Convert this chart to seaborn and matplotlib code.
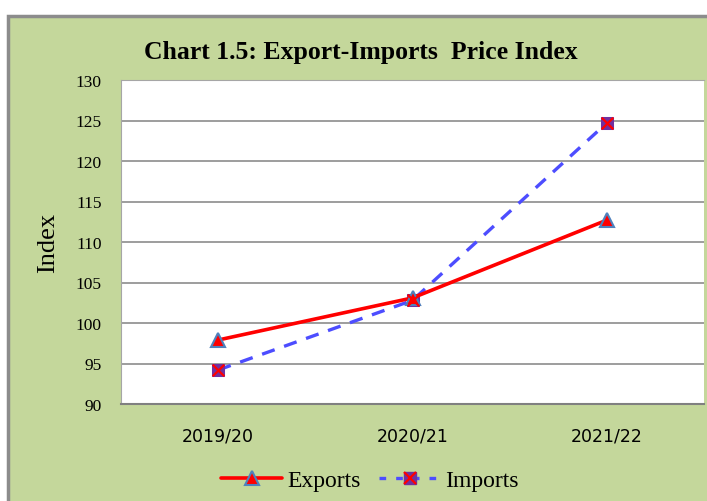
import numpy as np
import pandas as pd
import seaborn as sns
import matplotlib.pyplot as plt
from matplotlib.patches import Rectangle
from matplotlib.lines import Line2D
from matplotlib.legend_handler import HandlerTuple

# Data
years = ['2019/20', '2020/21', '2021/22']
exports = [97.9, 103.1, 112.7]
imports = [94.2, 102.8, 124.7]
y_ticks = [90, 95, 100, 105, 110, 115, 120, 125, 130]

panel_green = '#C4D79B'
serif = ['Liberation Serif', 'DejaVu Serif']

df = pd.DataFrame({'Year': years, 'Exports': exports, 'Imports': imports})
df['pos'] = np.arange(len(years))

sns.set_style('white')
plt.rcParams['text.color'] = 'black'
plt.rcParams['xtick.color'] = 'black'
plt.rcParams['ytick.color'] = 'black'
plt.rcParams['axes.labelcolor'] = 'black'

fig = plt.figure(figsize=(7.07, 5.02), dpi=100)
fig.patch.set_facecolor('white')

# green chart panel with grey frame
fig.patches.append(Rectangle((8 / 707, -0.05), 1.2, 1 - 17 / 502 + 0.05,
                             transform=fig.transFigure, facecolor=panel_green,
                             edgecolor='#8C8C8C', linewidth=2.5, zorder=-5))

ax = fig.add_axes([121 / 707, 1 - 405 / 502, (704 - 121) / 707, (405 - 81) / 502])
ax.set_facecolor('white')

sns.lineplot(data=df, x='pos', y='Exports', ax=ax, color='#FF0000', linewidth=2.6,
             marker='^', markersize=10, markerfacecolor='#FF0000',
             markeredgecolor='#4F81BD', markeredgewidth=1.5, zorder=4)
sns.lineplot(data=df, x='pos', y='Imports', ax=ax, color='#4D4DFF', linewidth=2.4,
             linestyle=(0, (4, 3)), marker='s', markersize=8,
             markerfacecolor='#7030A0', markeredgecolor='#7030A0', zorder=3)
sns.scatterplot(data=df, x='pos', y='Imports', ax=ax, marker='x', s=70,
                color='#FF0000', linewidth=1.6, zorder=5)

ax.set_xlim(-0.5, 2.5)
ax.set_ylim(90, 130)
ax.set_yticks(y_ticks)
ax.set_xticks(df['pos'])
ax.set_xticklabels(years, fontsize=12.5, family=['DejaVu Sans'])
ax.set_yticklabels([str(t) for t in y_ticks], fontsize=12.5, family=serif)
ax.tick_params(axis='y', length=0, pad=14)
ax.tick_params(axis='x', length=0, pad=16)
ax.grid(axis='y', color='#8C8C8C', linewidth=1.2)
ax.set_axisbelow(True)
ax.spines['right'].set_visible(False)
ax.spines['left'].set_color('#A6A6A6')
ax.spines['top'].set_color('#A6A6A6')
ax.spines['bottom'].set_color('#808080')
ax.spines['bottom'].set_linewidth(1.5)
ax.set_xlabel('')
ax.set_ylabel('Index', fontsize=19, family=serif, labelpad=12)

fig.text(361 / 707, 1 - 52 / 502, 'Chart 1.5: Export-Imports  Price Index',
         ha='center', va='center', fontsize=18.5, fontweight='bold', family=serif)

h_exp = Line2D([], [], color='#FF0000', linewidth=2.6, marker='^', markersize=10,
               markerfacecolor='#FF0000', markeredgecolor='#4F81BD', markeredgewidth=1.5)
h_imp_sq = Line2D([], [], color='#4D4DFF', linewidth=2.4, linestyle=(0, (2, 3)),
                  marker='s', markersize=8, markerfacecolor='#7030A0',
                  markeredgecolor='#7030A0')
h_imp_x = Line2D([], [], linestyle='none', marker='x', markersize=8,
                 color='#FF0000', markeredgewidth=1.6)
fig.legend([h_exp, (h_imp_sq, h_imp_x)], ['Exports', 'Imports'],
           loc='center', bbox_to_anchor=(370 / 707, 1 - 481 / 502), ncol=2,
           frameon=False, handlelength=2.6, handletextpad=0.2, columnspacing=0.8,
           prop={'family': serif, 'size': 17},
           handler_map={tuple: HandlerTuple(ndivide=1)})

plt.savefig('out.png', dpi=100)
plt.close()
